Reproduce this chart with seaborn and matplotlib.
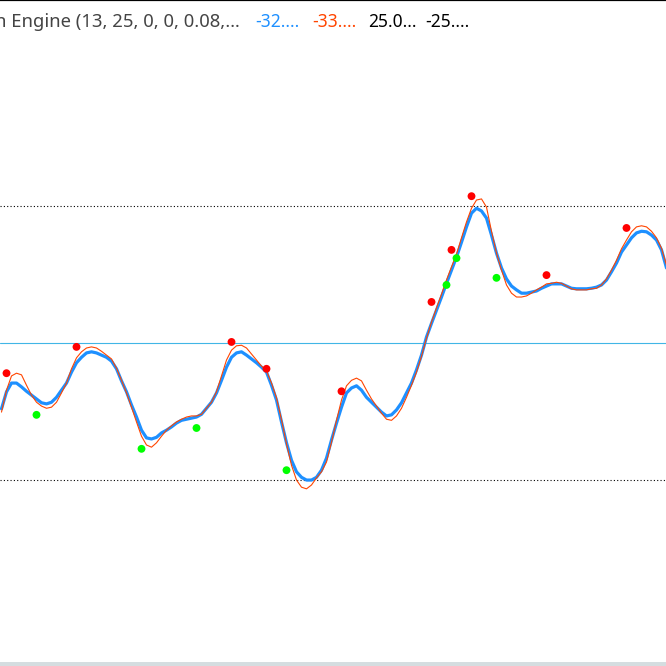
import numpy as np
import pandas as pd
import seaborn as sns
import matplotlib.pyplot as plt

# indicator values, one per bar
blue = [-12.0, -8.9, -7.3, -7.3, -8.0, -8.8, -9.5, -10.2, -10.9, -11.1,
        -10.8, -9.9, -8.6, -7.3, -5.3, -3.6, -2.6, -1.8, -1.6, -1.8,
        -2.2, -2.6, -3.3, -4.7, -6.9, -8.9, -11.3, -13.5, -15.9, -17.3,
        -17.5, -17.2, -16.4, -15.9, -15.3, -14.6, -14.1, -13.9, -13.7, -13.5,
        -13.0, -11.9, -10.8, -9.1, -6.8, -4.4, -2.6, -1.8, -1.6, -2.2,
        -2.9, -3.6, -4.4, -5.3, -7.7, -10.4, -14.4, -18.2, -21.4, -23.5,
        -24.5, -25.0, -25.0, -24.5, -23.2, -21.0, -17.7, -14.6, -11.7, -9.1,
        -8.2, -7.8, -8.6, -9.9, -10.8, -11.7, -12.6, -13.3, -13.1, -12.2,
        -10.9, -9.1, -7.3, -4.9, -2.2, 1.1, 3.6, 6.0, 8.4, 10.9,
        13.3, 15.7, 18.4, 21.2, 23.7, 24.6, 24.1, 22.8, 19.7, 16.4,
        13.7, 11.7, 10.4, 9.7, 9.1, 9.1, 9.3, 9.5, 10.0, 10.4,
        10.8, 10.8, 10.8, 10.4, 10.0, 9.9, 9.9, 9.9, 10.0, 10.2,
        10.6, 11.5, 13.0, 14.6, 16.6, 17.9, 19.2, 20.1, 20.4, 20.3,
        19.7, 18.8, 17.0, 13.7]

orange = [-12.6, -8.6, -6.0, -5.5, -5.8, -7.7, -9.5, -10.8, -11.5, -11.9,
          -11.7, -10.8, -9.1, -7.3, -4.7, -2.7, -1.6, -0.9, -0.7, -0.9,
          -1.5, -2.2, -2.9, -4.6, -6.8, -9.1, -11.7, -14.4, -17.0, -18.6,
          -19.0, -18.2, -17.0, -15.9, -15.1, -14.4, -13.9, -13.5, -13.3, -13.3,
          -13.0, -11.9, -10.8, -8.9, -6.0, -3.1, -1.3, -0.5, -0.4, -0.9,
          -2.0, -3.1, -4.2, -5.1, -7.3, -10.0, -14.0, -18.4, -22.3, -25.0,
          -26.3, -26.6, -25.9, -24.6, -23.5, -21.7, -18.1, -14.1, -10.4, -7.8,
          -6.8, -6.4, -6.9, -8.6, -10.2, -11.5, -12.8, -13.9, -14.1, -13.3,
          -11.9, -9.9, -7.7, -5.3, -2.4, 0.9, 3.8, 6.4, 8.9, 11.5,
          13.9, 16.2, 19.2, 22.1, 24.6, 26.1, 26.3, 24.8, 20.4, 16.4,
          13.3, 10.6, 9.1, 8.4, 8.4, 8.6, 9.1, 9.7, 10.2, 10.8,
          10.9, 11.1, 10.9, 10.4, 9.9, 9.7, 9.7, 9.7, 9.9, 10.0,
          10.6, 11.7, 13.3, 15.1, 17.2, 18.8, 20.3, 21.2, 21.4, 21.2,
          20.4, 19.2, 17.3, 14.2]

red_bar = [1, 15, 46, 53, 68, 86, 90, 94, 109, 125]
red_val = [-5.5, -0.7, 0.2, -4.7, -8.8, 7.5, 17.0, 26.8, 12.4, 21.0]
green_bar = [7, 28, 39, 57, 89, 91, 99]
green_val = [-13.1, -19.3, -15.5, -23.2, 10.6, 15.5, 11.9]

levels_dot = [25, -25]
level_mid = 0

title = "n Engine (13, 25, 0, 0, 0.08,\u2026"
labels = ["-32....", "-33....", "25.0...", "-25...."]
label_colors = ["#1e90ff", "#ff4500", "black", "black"]
label_px = [255, 312, 368, 425]

sns.set_style("white")
plt.rcParams['font.family'] = ['Noto Sans', 'DejaVu Sans']

fig = plt.figure(figsize=(6.66, 6.66), dpi=100, facecolor='#d5dde0')
ax = fig.add_axes([0, 4 / 666, 1, 662 / 666])
ax.set_facecolor('white')

df = pd.DataFrame({'bar': np.arange(len(blue)), 'blue': blue, 'orange': orange})

ax.axhline(level_mid, color='#41b6e6', lw=0.8, zorder=1)
for lv in levels_dot:
    ax.axhline(lv, color='black', lw=0.8, ls=(0, (1, 2)), zorder=1)

sns.lineplot(data=df, x='bar', y='blue', color='#1e90ff', lw=2.3, ax=ax, zorder=2)
sns.lineplot(data=df, x='bar', y='orange', color='#ff4500', lw=0.8, ax=ax, zorder=3)
sns.scatterplot(x=red_bar, y=red_val, color='#ff0000', s=32, edgecolor='none', ax=ax, zorder=4)
sns.scatterplot(x=green_bar, y=green_val, color='#00ff00', s=32, edgecolor='none', ax=ax, zorder=4)

ax.set_xlim(-0.3, 132.9)
ax.set_ylim(-58.2, 62.6)
ax.set_xticks([])
ax.set_yticks([])
ax.set_xlabel('')
ax.set_ylabel('')
for side in ['left', 'right', 'bottom']:
    ax.spines[side].set_visible(False)
ax.spines['top'].set_color('black')
ax.spines['top'].set_linewidth(1.6)

ty = 1 - 27 / 662
ax.text(-5 / 666, ty, title, transform=ax.transAxes, color='#444444',
        fontsize=13.3, va='baseline', ha='left')
for lab, col, px in zip(labels, label_colors, label_px):
    ax.text(px / 666, ty, lab, transform=ax.transAxes, color=col,
            fontsize=12.5, va='baseline', ha='left')

fig.savefig('out.png', dpi=100, facecolor=fig.get_facecolor())
